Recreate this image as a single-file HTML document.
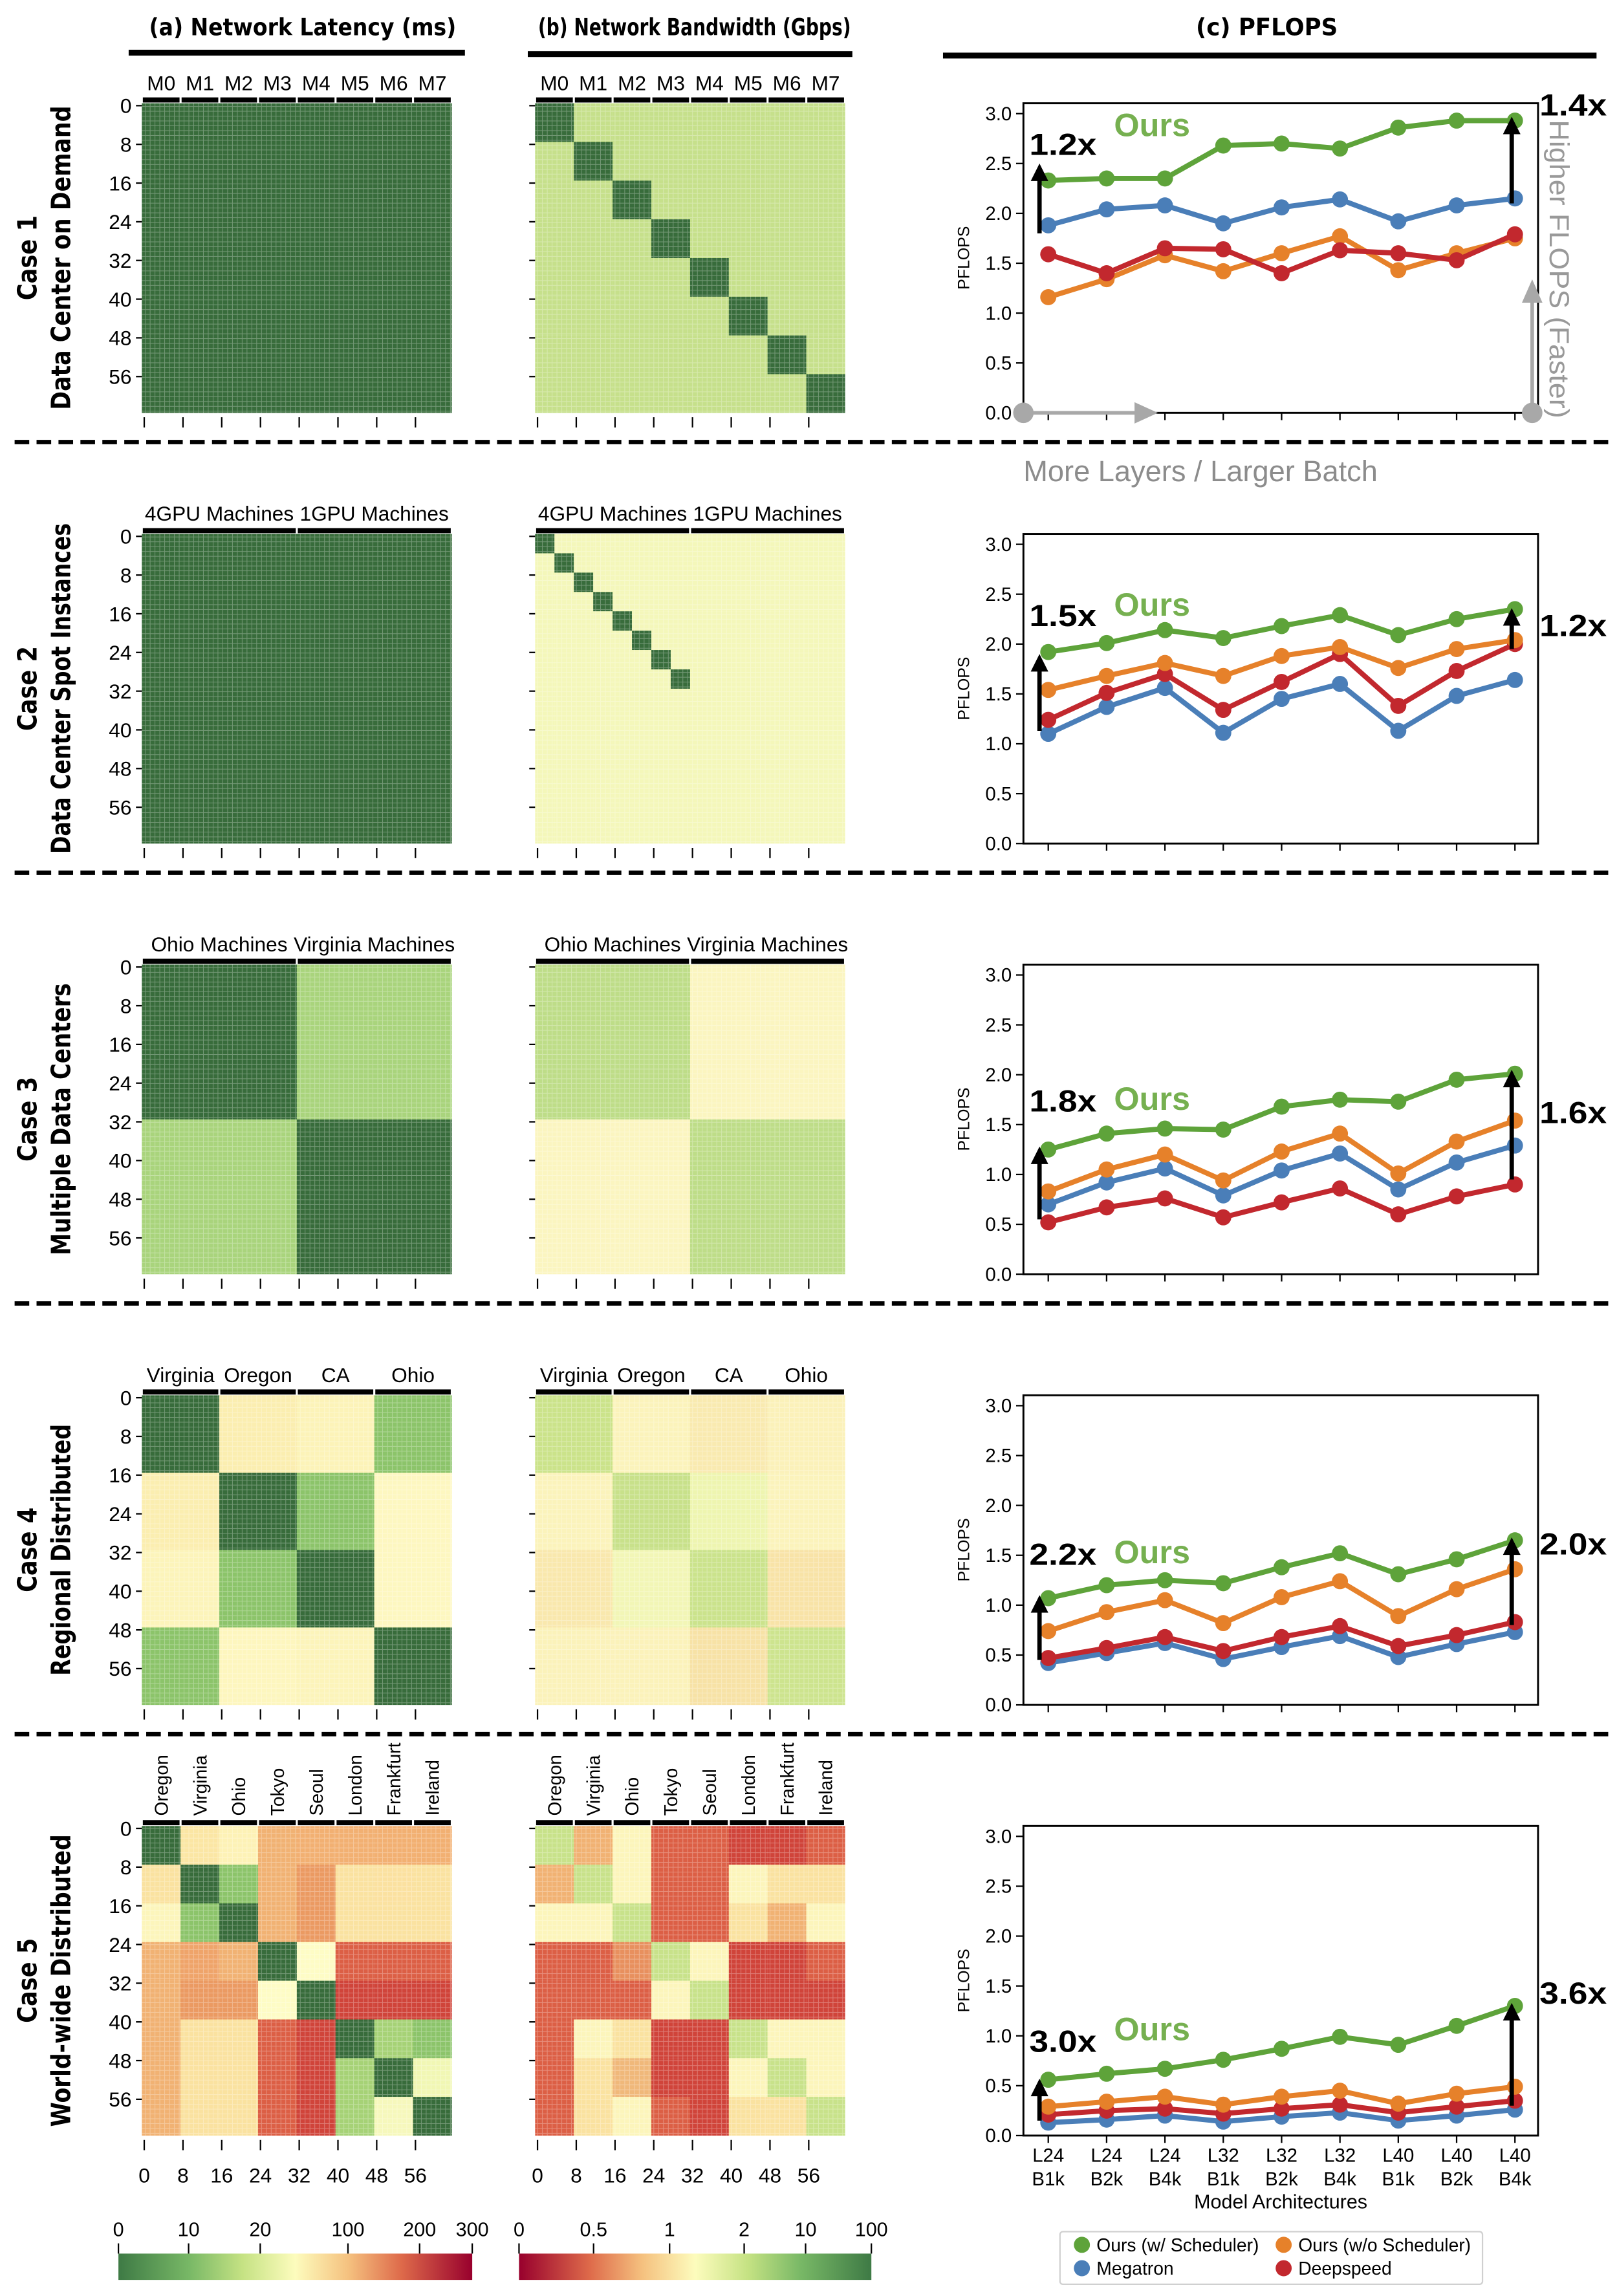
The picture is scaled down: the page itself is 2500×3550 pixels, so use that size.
<!DOCTYPE html>
<html><head><meta charset="utf-8">
<style>
html,body{margin:0;padding:0;background:#fff;}
svg{display:block;}
text{font-family:"Liberation Sans Narrow","Liberation Sans",sans-serif;}
.bold{font-family:"DejaVu Sans","Liberation Sans",sans-serif;font-weight:bold;}
</style></head>
<body>
<svg id="fig" xmlns="http://www.w3.org/2000/svg" width="2500" height="3550" viewBox="0 0 1106 1570" preserveAspectRatio="none">
<defs>
<pattern id="grid" patternUnits="userSpaceOnUse" width="3.3125" height="3.3078">
<rect x="0" y="0" width="3.3125" height="3.3078" fill="none" stroke="#ffffff" stroke-opacity="0.3" stroke-width="0.45"/>
</pattern>
<linearGradient id="cbLat" x1="0" x2="1" y1="0" y2="0">
<stop offset="0" stop-color="#3e7a45"/><stop offset="0.2" stop-color="#78b866"/>
<stop offset="0.35" stop-color="#c5e283"/><stop offset="0.5" stop-color="#fdfcbd"/>
<stop offset="0.65" stop-color="#f5c17f"/><stop offset="0.8" stop-color="#de6a4a"/>
<stop offset="1" stop-color="#98002d"/></linearGradient>
<linearGradient id="cbBw" x1="0" x2="1" y1="0" y2="0">
<stop offset="0" stop-color="#98002d"/><stop offset="0.2" stop-color="#de6a4a"/>
<stop offset="0.35" stop-color="#f5c17f"/><stop offset="0.5" stop-color="#fdfcbd"/>
<stop offset="0.65" stop-color="#c5e283"/><stop offset="0.8" stop-color="#78b866"/>
<stop offset="1" stop-color="#3e7a45"/></linearGradient>
</defs>

<!-- headers -->
<text class="bold" x="102" y="24" font-size="16" textLength="210" lengthAdjust="spacingAndGlyphs">(a) Network Latency (ms)</text>
<rect x="88" y="34" width="230" height="4" fill="#000"/>
<text class="bold" x="368" y="24" font-size="16" textLength="214" lengthAdjust="spacingAndGlyphs">(b) Network Bandwidth (Gbps)</text>
<rect x="361" y="35" width="222" height="4" fill="#000"/>
<text class="bold" x="818" y="24" font-size="16" textLength="97" lengthAdjust="spacingAndGlyphs">(c) PFLOPS</text>
<rect x="645" y="36" width="447" height="4" fill="#000"/>

<g>
<rect x="81" y="1541" width="242" height="18" fill="url(#cbLat)"/>
</g>
<g>
<rect x="355" y="1541" width="241" height="18" fill="url(#cbBw)"/>
</g>

<g>
<rect x="725" y="1526" width="289" height="36" rx="2" fill="#fff" stroke="#d0d0d0" stroke-width="1"/>
<circle cx="740" cy="1535" r="5.5" fill="#5ea33a"/>
<text x="750" y="1539.5" font-size="12.5">Ours (w/ Scheduler)</text>
<circle cx="878" cy="1535" r="5.5" fill="#e6812a"/>
<text x="888" y="1539.5" font-size="12.5">Ours (w/o Scheduler)</text>
<circle cx="740" cy="1551" r="5.5" fill="#4a7eb8"/>
<text x="750" y="1555.5" font-size="12.5">Megatron</text>
<circle cx="878" cy="1551" r="5.5" fill="#c2282e"/>
<text x="888" y="1555.5" font-size="12.5">Deepspeed</text>
</g>
</svg>

<script>
// ---------- DATA ----------
const categories = ["L24 B1k","L24 B2k","L24 B4k","L32 B1k","L32 B2k","L32 B4k","L40 B1k","L40 B2k","L40 B4k"];
const yTicks = [0,0.5,1.0,1.5,2.0,2.5,3.0];
const heatTicks = [0,8,16,24,32,40,48,56];
const latCbTicks = ["0","10","20","100","200","300"];
const bwCbTicks = ["0","0.5","1","2","10","100"];

const case1Ours = [2.33,2.35,2.35,2.68,2.70,2.65,2.86,2.93,2.93];
const case1OursNoSched = [1.16,1.34,1.58,1.42,1.60,1.77,1.43,1.60,1.75];
const case1Megatron = [1.88,2.04,2.08,1.90,2.06,2.14,1.92,2.08,2.15];
const case1Deepspeed = [1.59,1.40,1.65,1.64,1.40,1.63,1.60,1.53,1.79];

const case2Ours = [1.92,2.01,2.14,2.06,2.18,2.29,2.09,2.25,2.35];
const case2OursNoSched = [1.54,1.68,1.81,1.68,1.88,1.97,1.76,1.95,2.04];
const case2Megatron = [1.10,1.37,1.56,1.11,1.45,1.60,1.13,1.48,1.64];
const case2Deepspeed = [1.24,1.51,1.70,1.34,1.62,1.90,1.38,1.73,2.00];

const case3Ours = [1.25,1.41,1.46,1.45,1.68,1.75,1.73,1.95,2.01];
const case3OursNoSched = [0.83,1.05,1.20,0.94,1.23,1.41,1.01,1.33,1.54];
const case3Megatron = [0.70,0.92,1.06,0.79,1.04,1.21,0.85,1.12,1.29];
const case3Deepspeed = [0.52,0.67,0.76,0.57,0.72,0.86,0.60,0.78,0.90];

const case4Ours = [1.07,1.20,1.25,1.22,1.38,1.52,1.31,1.46,1.65];
const case4OursNoSched = [0.74,0.93,1.05,0.82,1.08,1.24,0.89,1.16,1.36];
const case4Megatron = [0.42,0.52,0.62,0.46,0.58,0.69,0.48,0.61,0.73];
const case4Deepspeed = [0.47,0.57,0.68,0.54,0.68,0.79,0.59,0.70,0.83];

const case5Ours = [0.56,0.62,0.67,0.76,0.87,0.99,0.91,1.10,1.30];
const case5OursNoSched = [0.29,0.34,0.39,0.31,0.39,0.45,0.32,0.42,0.49];
const case5Megatron = [0.13,0.16,0.20,0.14,0.19,0.23,0.15,0.20,0.26];
const case5Deepspeed = [0.21,0.25,0.27,0.22,0.27,0.31,0.23,0.29,0.35];

const leftSpeedups = ["1.2x","1.5x","1.8x","2.2x","3.0x"];
const rightSpeedups = ["1.4x","1.2x","1.6x","2.0x","3.6x"];
const leftArrowFrom = [1.80,1.13,0.55,0.45,0.15];
const leftArrowTo = [2.50,1.90,1.28,1.10,0.57];
const rightArrowFrom = [2.10,1.95,0.95,0.80,0.30];
const rightArrowTo = [2.97,2.36,2.05,1.68,1.33];

const caseTitles = ["Case 1","Case 2","Case 3","Case 4","Case 5"];
const caseSubtitles = ["Data Center on Demand","Data Center Spot Instances","Multiple Data Centers","Regional Distributed","World-wide Distributed"];
const subtitleLen = [208,226,186,172,200];

const G="#386c3b", g="#8cc46a", lg="#c8e28a", Y="#fcf5bb", y="#fae2a0", o="#f1b273", O="#eb9a62", r="#dc5f45", R="#d0443a";
const c1LatBlocks=[64], c1LatColors=[[G]];
const c1BwBlocks=[8,8,8,8,8,8,8,8];
const c1BwColors=[0,1,2,3,4,5,6,7].map(i=>[0,1,2,3,4,5,6,7].map(j=>i===j?G:"#c6e08b"));
const c2LatBlocks=[64], c2LatColors=[[G]];
const c2BwBlocks=[4,4,4,4,4,4,4,4,32];
const c2BwColors=[0,1,2,3,4,5,6,7,8].map(i=>[0,1,2,3,4,5,6,7,8].map(j=>(i===j&&i<8)?G:"#f4f7ba"));
const c3LatBlocks=[32,32], c3LatColors=[[G,"#a9d47c"],["#a9d47c",G]];
const c3BwBlocks=[32,32], c3BwColors=[["#bedd88","#fbf5c0"],["#fbf5c0","#bedd88"]];
const c4LatBlocks=[16,16,16,16];
const c4LatColors=[[G,"#fbeeb0","#fcf3b8",g],["#fbeeb0",G,g,"#fdf7c0"],["#fcf4ba",g,G,"#fdf7c0"],[g,"#fdf6be","#fcf4ba",G]];
const c4BwBlocks=[16,16,16,16];
const c4BwColors=[["#cbe38a","#fbf3bb","#f9eab0","#fbf1b9"],["#fbf3bb","#c8e18a","#eef5b0","#fbf3bb"],["#f9e8ad","#f2f6b6","#cbe38c","#f8e3a7"],["#fbf2ba","#fbf2ba","#f7e2a6","#cde48e"]];
const c5Blocks=[8,8,8,8,8,8,8,8];
const c5LatColors=[
 [G,"#fbe6a4","#fdf2b6",o,"#f2b072","#f2b072","#f2b072","#f2b072"],
 [y,G,g,o,O,y,"#fbe1a0",y],
 [Y,g,G,o,O,y,y,y],
 [o,"#efa46a",o,G,"#fefcc5",r,r,r],
 [o,O,O,"#fefcc5",G,R,R,R],
 [o,y,y,r,R,G,"#a6d276",g],
 [o,y,y,r,R,"#a6d276",G,"#f1f7b4"],
 [o,y,y,r,R,"#a6d276","#f6f8bc",G]];
const c5BwColors=[
 [lg,o,Y,r,r,R,R,r],
 [o,lg,Y,r,r,Y,y,y],
 [Y,Y,lg,r,r,y,o,Y],
 [r,r,"#e8905e",lg,Y,R,R,r],
 [r,r,r,Y,lg,R,R,R],
 [r,Y,y,R,R,lg,Y,Y],
 [r,y,"#f0b87a",R,R,Y,lg,Y],
 [r,y,Y,r,R,y,y,lg]];

const colLabels = [
 ["M0","M1","M2","M3","M4","M5","M6","M7"],
 ["4GPU Machines","1GPU Machines"],
 ["Ohio Machines","Virginia Machines"],
 ["Virginia","Oregon","CA","Ohio"],
 ["Oregon","Virginia","Ohio","Tokyo","Seoul","London","Frankfurt","Ireland"]];

const leftLabelY = [106,428,760,1070,1403];
const oursLabelY = [93,421,759,1069,1395];
const rightLabelY = [79,435,768,1063,1370];

// ---------- DRAW ----------
const NS="http://www.w3.org/2000/svg";
const svg=document.getElementById('fig');
function mk(tag,attrs,parent){const e=document.createElementNS(NS,tag);for(const k in attrs)e.setAttribute(k,attrs[k]);(parent||svg).appendChild(e);return e;}
const HM=212, HMH=211.7;
const caseBottom = i => 282.3 + 294.5*i;
const xPos = j => 717 + 39.9*j;
const yScale = (i,v) => caseBottom(i) - v*68.2;

function heatmap(x0,i,blocks,colors,name,showLabels){
  const g=mk('g',{});
  
  
  const top=caseBottom(i)-HMH, cw=HM/64, ch=HMH/64;
  let ry=0;
  blocks.forEach((bh,bi)=>{let rx=0;
    blocks.forEach((bw,bj)=>{
      const rc=mk('rect',{x:x0+rx*cw,y:top+ry*ch,width:bw*cw+0.05,height:bh*ch+0.05,fill:colors[bi][bj]},g);
      
      
      rx+=bw;});
    ry+=bh;});
  mk('rect',{x:x0,y:top,width:HM,height:HMH,fill:'url(#grid)'},g);
  heatTicks.forEach(t=>{
    const yy=top+(t+0.5)*ch;
    mk('line',{x1:x0-4,x2:x0,y1:yy,y2:yy,stroke:'#000','stroke-width':1},g);
    if(showLabels){const tx=mk('text',{x:x0-7,y:yy+5,'font-size':14,'text-anchor':'end'},g);tx.textContent=t;
      }
  });
  heatTicks.forEach(t=>{
    const xx=x0+(t+0.5)*cw;
    mk('line',{x1:xx,x2:xx,y1:caseBottom(i)+3,y2:caseBottom(i)+10,stroke:'#000','stroke-width':1},g);
    if(i===4){const tx=mk('text',{x:xx,y:caseBottom(i)+32,'font-size':14,'text-anchor':'middle'},g);tx.textContent=t;
      }
  });
  const labs=colLabels[i], n=labs.length, segw=HM/n;
  labs.forEach((l,k)=>{
    const sx=x0+k*segw;
    const b=mk('rect',{x:sx+0.7,y:top-4,width:segw-1.4,height:3.5,fill:'#000'},g);
    
    let tx;
    if(i===4){
      tx=mk('text',{x:0,y:0,'font-size':12.5,'font-family':'DejaVu Sans, sans-serif',transform:`translate(${sx+segw/2+4.5},${top-7}) rotate(-90)`},g);
    } else {
      tx=mk('text',{x:sx+segw/2,y:top-9,'font-size':14,'text-anchor':'middle'},g);
    }
    tx.textContent=l;
    
  });
}

function chart(i,series){
  const g=mk('g',{});
  
  
  const b=caseBottom(i), t=b-211.7;
  mk('rect',{x:700,y:t,width:352,height:211.7,fill:'none',stroke:'#000','stroke-width':1.3},g);
  yTicks.forEach(v=>{
    const yy=yScale(i,v);
    mk('line',{x1:695,x2:700,y1:yy,y2:yy,stroke:'#000','stroke-width':1},g);
    const tx=mk('text',{x:692,y:yy+4.5,'font-size':13,'text-anchor':'end'},g);tx.textContent=v.toFixed(1);
    
  });
  categories.forEach((c,j)=>{
    mk('line',{x1:xPos(j),x2:xPos(j),y1:b,y2:b+5,stroke:'#000','stroke-width':1},g);
    if(i===4){const p=c.split(' ');
      const a=mk('text',{x:xPos(j),y:b+18,'font-size':13,'text-anchor':'middle'},g);a.textContent=p[0];
      
      const d=mk('text',{x:xPos(j),y:b+34,'font-size':13,'text-anchor':'middle'},g);d.textContent=p[1];
      }
  });
  const yl=mk('text',{x:0,y:0,'font-size':11,'font-family':'DejaVu Sans, sans-serif','text-anchor':'middle',transform:`translate(663,${b-106}) rotate(-90)`},g);
  yl.textContent='PFLOPS';
  
  series.forEach(s=>{
    const pts=s.vals.map((v,j)=>xPos(j)+','+yScale(i,v)).join(' ');
    const pl=mk('polyline',{points:pts,fill:'none',stroke:s.color,'stroke-width':3.5,'stroke-linejoin':'round'},g);
    
    s.vals.forEach((v,j)=>{const c=mk('circle',{cx:xPos(j),cy:yScale(i,v),r:5.5,fill:s.color},g);
      });
  });
  function arrow(x,v1,v2,nm){
    const y1=yScale(i,v1), y2=yScale(i,v2);
    mk('line',{x1:x,x2:x,y1:y1,y2:y2+10,stroke:'#000','stroke-width':3},g);
    const p=mk('polygon',{points:`${x-6},${y2+12} ${x+6},${y2+12} ${x},${y2}`,fill:'#000'},g);
    
  }
  arrow(711,leftArrowFrom[i],leftArrowTo[i],'left-speedup-arrow');
  arrow(1034,rightArrowFrom[i],rightArrowTo[i],'right-speedup-arrow');
  const lt=mk('text',{x:704,y:leftLabelY[i],'font-size':21,'font-weight':'bold',textLength:46,lengthAdjust:'spacingAndGlyphs'},g);lt.textContent=leftSpeedups[i];
  
  const ou=mk('text',{x:762,y:oursLabelY[i],'font-size':22,'font-weight':'bold',fill:'#76b050',textLength:52,lengthAdjust:'spacingAndGlyphs'},g);ou.textContent='Ours';
  
  const rt=mk('text',{x:1053,y:rightLabelY[i],'font-size':21,'font-weight':'bold',textLength:46,lengthAdjust:'spacingAndGlyphs'},g);rt.textContent=rightSpeedups[i];
  
}

for(let i=0;i<5;i++){
  const lats=[c1LatBlocks,c2LatBlocks,c3LatBlocks,c4LatBlocks,c5Blocks][i];
  const latc=[c1LatColors,c2LatColors,c3LatColors,c4LatColors,c5LatColors][i];
  const bws=[c1BwBlocks,c2BwBlocks,c3BwBlocks,c4BwBlocks,c5Blocks][i];
  const bwc=[c1BwColors,c2BwColors,c3BwColors,c4BwColors,c5BwColors][i];
  heatmap(97,i,lats,latc,'latency-heatmap-case'+(i+1),true);
  heatmap(366,i,bws,bwc,'bandwidth-heatmap-case'+(i+1),false);
  const ours=[case1Ours,case2Ours,case3Ours,case4Ours,case5Ours][i];
  const ns=[case1OursNoSched,case2OursNoSched,case3OursNoSched,case4OursNoSched,case5OursNoSched][i];
  const mg=[case1Megatron,case2Megatron,case3Megatron,case4Megatron,case5Megatron][i];
  const ds=[case1Deepspeed,case2Deepspeed,case3Deepspeed,case4Deepspeed,case5Deepspeed][i];
  const order = i===0 ? [{name:'ours-nosched',vals:ns,color:'#e6812a'},{name:'deepspeed',vals:ds,color:'#c2282e'},{name:'megatron',vals:mg,color:'#4a7eb8'},{name:'ours',vals:ours,color:'#5ea33a'}]
    : [{name:'megatron',vals:mg,color:'#4a7eb8'},{name:'deepspeed',vals:ds,color:'#c2282e'},{name:'ours-nosched',vals:ns,color:'#e6812a'},{name:'ours',vals:ours,color:'#5ea33a'}];
  chart(i,order);
  const cy=caseBottom(i)-106;
  const t1=mk('text',{x:0,y:0,'font-size':18,'class':'bold','text-anchor':'middle',textLength:58,lengthAdjust:'spacingAndGlyphs',transform:`translate(25,${cy}) rotate(-90)`});
  t1.textContent=caseTitles[i];
  const t2=mk('text',{x:0,y:0,'font-size':18,'class':'bold','text-anchor':'middle',textLength:subtitleLen[i],lengthAdjust:'spacingAndGlyphs',transform:`translate(48,${cy}) rotate(-90)`});
  t2.textContent=caseSubtitles[i];
  if(i<4){const dl=mk('line',{x1:10,x2:1100,y1:caseBottom(i)+20,y2:caseBottom(i)+20,stroke:'#000','stroke-width':3,'stroke-dasharray':'10,5'});
    }
}

const xt=mk('text',{x:876,y:1510,'font-size':13.5,'text-anchor':'middle'});xt.textContent='Model Architectures';


const ga=mk('g',{});


mk('line',{x1:700,x2:778,y1:282.3,y2:282.3,stroke:'#a8a8a8','stroke-width':2.5},ga);
mk('polygon',{points:'776,275 792,282.3 776,289.6',fill:'#a8a8a8'},ga);
mk('circle',{cx:700,cy:282.3,r:7,fill:'#a8a8a8'},ga);
mk('line',{x1:1048,x2:1048,y1:282.3,y2:205,stroke:'#a8a8a8','stroke-width':2.5},ga);
mk('polygon',{points:'1041,207 1048,191 1055,207',fill:'#a8a8a8'},ga);
mk('circle',{cx:1048,cy:282.3,r:7,fill:'#a8a8a8'},ga);
const hf=mk('text',{x:0,y:0,'font-size':19,fill:'#999','font-family':'DejaVu Sans, sans-serif',textLength:204,lengthAdjust:'spacingAndGlyphs',transform:'translate(1060,82) rotate(90)'},ga);
hf.textContent='Higher FLOPS (Faster)';
const ml=mk('text',{x:700,y:329,'font-size':20,fill:'#8c8c8c'},ga);
ml.textContent='More Layers / Larger Batch';

const latTickX=[81,129,178,238,287,323];
latCbTicks.forEach((l,k)=>{
  mk('line',{x1:latTickX[k],x2:latTickX[k],y1:1534,y2:1541,stroke:'#000','stroke-width':1});
  const t=mk('text',{x:latTickX[k],y:1529,'font-size':13.5,'text-anchor':'middle'});t.textContent=l;
  
});
const bwTickX=[355,406,458,509,551,596];
bwCbTicks.forEach((l,k)=>{
  mk('line',{x1:bwTickX[k],x2:bwTickX[k],y1:1534,y2:1541,stroke:'#000','stroke-width':1});
  const t=mk('text',{x:bwTickX[k],y:1529,'font-size':13.5,'text-anchor':'middle'});t.textContent=l;
  
});
</script>
</body></html>
